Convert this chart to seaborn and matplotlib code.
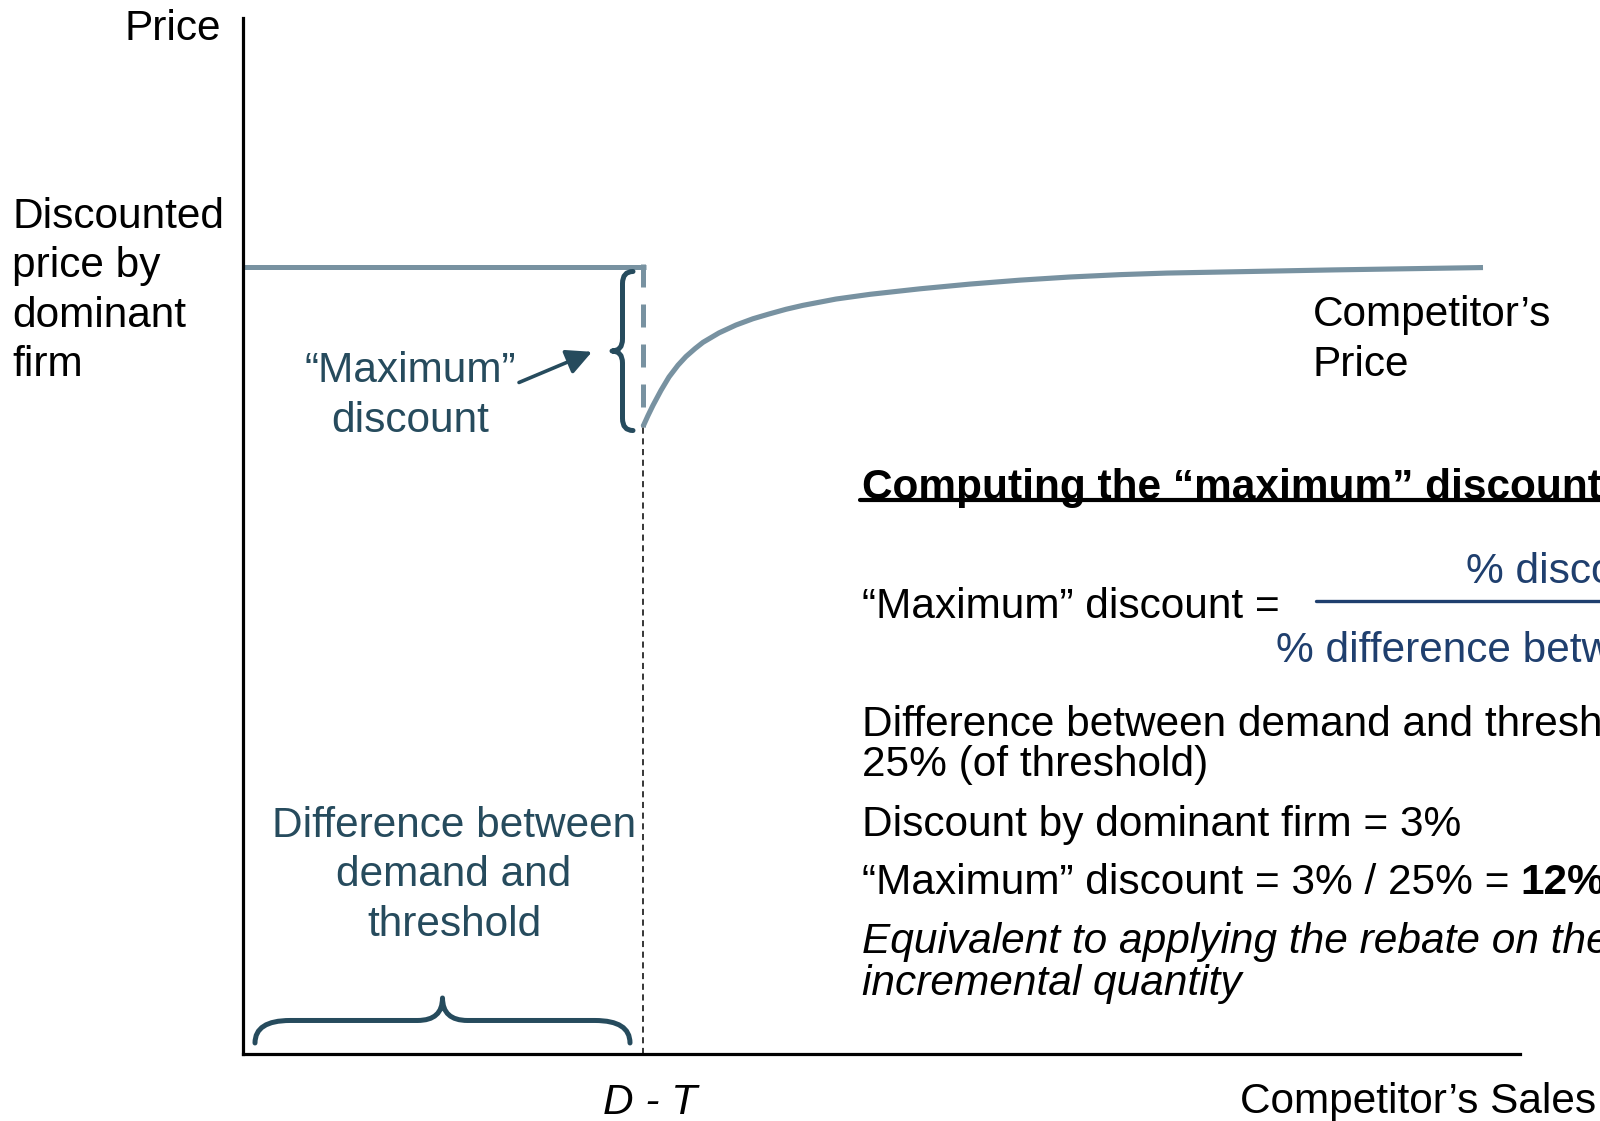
import numpy as np
import pandas as pd
import matplotlib
matplotlib.use("Agg")
import matplotlib.pyplot as plt
import matplotlib.transforms as mtransforms
from matplotlib.path import Path
from matplotlib.patches import PathPatch
import seaborn as sns

# ---- data -------------------------------------------------------------
dt_position = 4.0            # D - T on the competitor's sales axis
discounted_price = 100.0     # price level offered by the dominant firm
competitor_sales = [4.00, 4.05, 4.10, 4.18, 4.26, 4.35, 4.43, 4.52, 4.60,
                    4.76, 4.93, 5.10, 5.26, 5.43, 5.60, 5.93, 6.27, 6.77,
                    7.27, 7.77, 8.27, 8.77, 9.24, 10.90, 12.40]
competitor_price = [79.7, 81.1, 82.4, 84.3, 86.0, 87.5, 88.6, 89.6, 90.4,
                    91.6, 92.6, 93.4, 94.0, 94.6, 95.1, 95.9, 96.5, 97.2,
                    97.8, 98.3, 98.7, 99.0, 99.2, 99.6, 99.9]
x_max, y_max = 12.77, 131.6

# ---- style ------------------------------------------------------------
sns.set_theme(style="white")
plt.rcParams["font.family"] = ["Liberation Sans", "DejaVu Sans"]
plt.rcParams["text.color"] = "black"

W, H, DPI = 1600, 1121, 100
CURVE = "#7892A1"
TEAL = "#264B5D"
NAVY = "#1F3F6E"
FS = 30.5

fig = plt.figure(figsize=(W / DPI, H / DPI), dpi=DPI)
fig.patch.set_facecolor("white")


def fx(px):
    return px / W


def fy(py):
    return 1 - py / H


ax = fig.add_axes([fx(243), fy(1054), (1520 - 243) / W, (1054 - 18) / H])
ax.set_xlim(0, x_max)
ax.set_ylim(0, y_max)
ax.set_facecolor("white")
for side in ("top", "right"):
    ax.spines[side].set_visible(False)
for side in ("left", "bottom"):
    ax.spines[side].set_color("black")
    ax.spines[side].set_linewidth(2.3)
ax.set_xticks([])
ax.set_yticks([])

# discounted price of the dominant firm up to D - T
flat = pd.DataFrame({"x": [0, dt_position + 0.03],
                     "y": [discounted_price, discounted_price]})
sns.lineplot(data=flat, x="x", y="y", ax=ax, color=CURVE, lw=3.6,
             solid_capstyle="butt", legend=False)

# drop to the competitor's price at D - T (the "maximum" discount)
ax.plot([dt_position, dt_position], [discounted_price + 0.35, competitor_price[0]],
        color=CURVE, lw=3.6, dashes=(4.6, 3.4), dash_capstyle="butt")

# competitor's price curve
curve = pd.DataFrame({"x": competitor_sales, "y": competitor_price})
sns.lineplot(data=curve, x="x", y="y", ax=ax, color=CURVE, lw=3.7, sort=False,
             solid_capstyle="butt", solid_joinstyle="round", legend=False)

# reference line down to D - T
ax.plot([dt_position, dt_position], [0, competitor_price[0]], color="black",
        lw=1.1, dashes=(4, 3))
ax.set_xlabel("")
ax.set_ylabel("")


# ---- curly braces ------------------------------------------------------
def brace(start, end, depth, curl_end, curl_tip, color, lw):
    s = ax.transData.transform(start)
    e = ax.transData.transform(end)
    L = np.hypot(*(e - s))
    u = (e - s) / L
    v = np.array([-u[1], u[0]])
    m, h = L / 2, depth
    local = [(0, 0), (0, h / 2), (curl_end, h / 2), (m - curl_tip, h / 2),
             (m, h / 2), (m, h), (m, h / 2), (m + curl_tip, h / 2),
             (L - curl_end, h / 2), (L, h / 2), (L, 0)]
    codes = [Path.MOVETO, Path.CURVE3, Path.CURVE3, Path.LINETO, Path.CURVE3,
             Path.CURVE3, Path.CURVE3, Path.CURVE3, Path.LINETO, Path.CURVE3,
             Path.CURVE3]
    verts = [s + a * u + b * v for a, b in local]
    patch = PathPatch(Path(verts, codes), facecolor="none", edgecolor=color,
                      lw=lw, capstyle="round", joinstyle="round",
                      transform=mtransforms.IdentityTransform(), clip_on=False)
    fig.add_artist(patch)


brace((0.12, 1.4), (dt_position - 0.13, 1.4), 45, 35, 25, TEAL, 3.6)
brace((dt_position - 0.10, competitor_price[0] - 0.5),
      (dt_position - 0.10, discounted_price - 0.6), 21, 12, 12, TEAL, 3.6)

ax.annotate("", xy=(3.49, 89.2), xytext=(2.76, 85.3),
            arrowprops=dict(arrowstyle="-|>,head_length=0.7,head_width=0.35",
                            color=TEAL, lw=2.6, shrinkA=0, shrinkB=0,
                            mutation_scale=22))

# ---- annotations inside the chart --------------------------------------
ax.text(1.67, 83.6, "\u201cMaximum\u201d\ndiscount", ha="center", va="center",
        fontsize=FS, color=TEAL, linespacing=1.33)
ax.text(2.11, 22.7, "Difference between\ndemand and\nthreshold", ha="center",
        va="center", fontsize=FS, color=TEAL, linespacing=1.31)

# ---- axis labels -------------------------------------------------------
fig.text(fx(221), fy(29), "Price", ha="right", va="center", fontsize=FS)
fig.text(fx(12), fy(291), "Discounted\nprice by\ndominant\nfirm", ha="left",
         va="center", fontsize=FS, linespacing=1.31)
fig.text(fx(1313), fy(340), "Competitor\u2019s\nPrice", ha="left", va="center",
         fontsize=FS, linespacing=1.33)
fig.text(fx(650), fy(1103), "D - T", ha="center", va="center", fontsize=FS,
         style="italic")
fig.text(fx(1240), fy(1102), "Competitor\u2019s Sales", ha="left", va="center",
         fontsize=FS)

# ---- computation panel -------------------------------------------------
fig.text(fx(862), fy(488), "Computing the \u201cmaximum\u201d discount", ha="left",
         va="center", fontsize=FS, fontweight="bold")
fig.add_artist(plt.Line2D([fx(860), fx(1600)], [fy(500), fy(500)],
                          color="black", lw=3))

fig.text(fx(862), fy(607), "\u201cMaximum\u201d discount =", ha="left",
         va="center", fontsize=FS)
fig.add_artist(plt.Line2D([fx(1316), fx(1600)], [fy(601), fy(601)],
                          color=NAVY, lw=2.4))
fig.text(fx(1466), fy(572), "% discount by dominant firm", ha="left",
         va="center", fontsize=FS, color=NAVY)
fig.text(fx(1276), fy(651), "% difference between demand and threshold",
         ha="left", va="center", fontsize=FS, color=NAVY)

fig.text(fx(862), fy(745),
         "Difference between demand and threshold =\n25% (of threshold)",
         ha="left", va="center", fontsize=FS, linespacing=1.03)
fig.text(fx(862), fy(825), "Discount by dominant firm = 3%", ha="left",
         va="center", fontsize=FS)
t_max = fig.text(fx(862), fy(883), "\u201cMaximum\u201d discount = 3% / 25% =",
                 ha="left", va="center", fontsize=FS)
plt.annotate("12%", xy=(1, 0), xycoords=t_max, xytext=(11, 0),
             textcoords="offset pixels", ha="left", va="bottom", fontsize=FS,
             fontweight="bold")
fig.text(fx(862), fy(963),
         "Equivalent to applying the rebate on the\nincremental quantity",
         ha="left", va="center", fontsize=FS, style="italic", linespacing=1.05)

fig.savefig("out.png", dpi=DPI, facecolor="white")
